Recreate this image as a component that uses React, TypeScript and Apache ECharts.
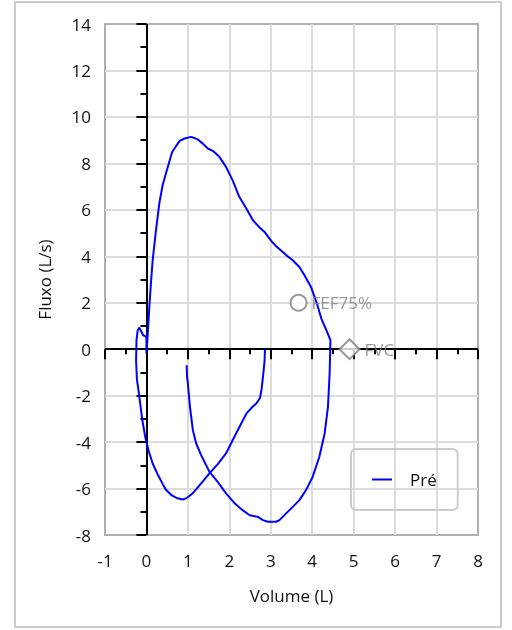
import React, { useEffect, useRef } from "react";
import * as echarts from "echarts";

const seriesName = "Pré";
const volume = [
  2.86, 2.85, 2.82, 2.78, 2.74, 2.66, 2.55, 2.42, 2.33, 2.2, 2.08, 1.92, 1.72, 1.52, 1.3, 1.12, 0.98, 0.88, 0.75, 0.6,
  0.47, 0.39, 0.26, 0.15, 0.05, -0.03, -0.1, -0.14, -0.19, -0.23, -0.25, -0.24, -0.21, -0.17, -0.13, -0.08, -0.03, 0.0, 0.0, 0.03,
  0.07, 0.11, 0.15, 0.23, 0.31, 0.39, 0.48, 0.62, 0.8, 0.92, 1.08, 1.24, 1.36, 1.48, 1.6, 1.76, 1.92, 2.08, 2.24, 2.41,
  2.57, 2.73, 2.85, 3.01, 3.13, 3.37, 3.53, 3.69, 3.81, 3.97, 4.1, 4.22, 4.34, 4.44, 4.42, 4.38, 4.3, 4.17, 4.01, 3.85,
  3.69, 3.53, 3.37, 3.21, 3.13, 2.93, 2.81, 2.69, 2.49, 2.32, 2.12, 1.92, 1.72, 1.52, 1.32, 1.2, 1.12, 1.05, 1.0, 0.98, 0.97,
];
const flow = [
  0.0, -0.5, -1.05, -1.7, -2.1, -2.32, -2.5, -2.75, -3.05, -3.5, -3.92, -4.49, -4.95, -5.35, -5.82, -6.2, -6.4, -6.47, -6.42, -6.28,
  -6.05, -5.8, -5.35, -4.92, -4.35, -3.77, -3.05, -2.48, -1.8, -1.3, -0.5, 0.4, 0.82, 0.93, 0.78, 0.6, 0.56, 0.5, -0.19, 0.6,
  1.82, 2.9, 3.83, 5.12, 6.27, 7.06, 7.63, 8.49, 8.97, 9.07, 9.14, 9.03, 8.85, 8.64, 8.54, 8.28, 7.85, 7.27, 6.56, 6.06,
  5.55, 5.24, 5.05, 4.66, 4.43, 4.05, 3.83, 3.54, 3.19, 2.68, 2.04, 1.32, 0.82, 0.39, -1.05, -2.48, -3.63, -4.64, -5.5, -6.07,
  -6.5, -6.79, -7.07, -7.36, -7.43, -7.43, -7.36, -7.22, -7.15, -6.93, -6.62, -6.21, -5.71, -5.28, -4.56, -4.06, -3.49, -2.48, -1.48, -1.19, -0.69,
];
const markerNames = ["FEF75%", "FVC"];
const markerVolume = [3.67, 4.9];
const markerFlow = [2.0, 0];

const xMin = -1, xMax = 8, xStep = 1;
const yMin = -8, yMax = 14, yStep = 2;
const xTitle = "Volume (L)";
const yTitle = "Fluxo (L/s)";

const FONT = "Open Sans";

export default function App() {
  const ref = useRef<HTMLDivElement>(null);
  useEffect(() => {
    if (!ref.current) return;
    const chart = echarts.init(ref.current, null, { renderer: "svg" });
    const pts = volume.map((v, i) => [v, flow[i]]);
    const axisText = { color: "#111", fontSize: 17, fontFamily: FONT };
    chart.setOption({
      animation: false,
      textStyle: { fontFamily: FONT },
      graphic: [
        {
          type: "rect",
          shape: { x: 15, y: 2, width: 486, height: 625 },
          style: { fill: "none", stroke: "#cccccc", lineWidth: 2 },
          silent: true,
        },
      ],
      grid: {
        left: 105,
        right: 34,
        top: 24,
        bottom: 95,
        show: true,
        borderColor: "#b0b0b0",
        borderWidth: 2,
        backgroundColor: "transparent",
      },
      legend: {
        show: true,
        left: 351,
        top: 449,
        orient: "vertical",
        icon: "rect",
        itemWidth: 20,
        itemHeight: 2,
        padding: [22, 21, 22, 21],
        borderColor: "#cccccc",
        borderWidth: 2,
        borderRadius: 5,
        backgroundColor: "transparent",
        textStyle: { color: "#111", fontSize: 17, fontFamily: FONT, padding: [0, 0, 0, 13] },
        data: [seriesName],
      },
      xAxis: {
        type: "value",
        min: xMin,
        max: xMax,
        interval: xStep,
        offset: 2,
        name: xTitle,
        nameLocation: "middle",
        nameGap: 50,
        nameTextStyle: axisText,
        axisLine: { show: false },
        axisTick: { show: true, length: 10, lineStyle: { color: "#000", width: 2 } },
        minorTick: { show: true, splitNumber: 2, length: 5, lineStyle: { color: "#000", width: 2 } },
        axisLabel: { ...axisText, margin: 15 },
        splitLine: { show: true, showMinLine: false, showMaxLine: false, lineStyle: { color: "#dcdcdc", width: 2 } },
      },
      yAxis: {
        type: "value",
        min: yMin,
        max: yMax,
        interval: yStep,
        name: yTitle,
        nameLocation: "middle",
        nameGap: 52,
        nameTextStyle: axisText,
        axisLine: { show: false },
        axisTick: { show: true, length: 10, lineStyle: { color: "#000", width: 2 } },
        minorTick: { show: true, splitNumber: 2, length: 6, lineStyle: { color: "#000", width: 2 } },
        axisLabel: { ...axisText, margin: 14 },
        splitLine: { show: true, showMinLine: false, showMaxLine: false, lineStyle: { color: "#dcdcdc", width: 2 } },
      },
      series: [
        {
          name: seriesName,
          type: "line",
          data: pts,
          symbol: "none",
          smooth: false,
          lineStyle: { color: "#0000ff", width: 2 },
          itemStyle: { color: "#0000ff" },
          z: 3,
          markLine: {
            silent: true,
            symbol: ["none", "none"],
            label: { show: false },
            lineStyle: { color: "#000", width: 2, type: "solid" },
            data: [{ xAxis: 0 }, { yAxis: 0 }],
            z: 2,
          },
        },
        {
          name: "markers",
          type: "scatter",
          data: markerVolume.map((v, i) => ({
            value: [v, markerFlow[i]],
            name: markerNames[i],
            symbol: i === 0 ? "emptyCircle" : "emptyDiamond",
            symbolSize: i === 0 ? 16 : 20,
          })),
          itemStyle: { color: "#808080", borderColor: "#808080", borderWidth: 2 },
          label: {
            show: true,
            position: "right",
            distance: 4,
            formatter: "{b}",
            color: "#808080",
            fontSize: 17,
            fontFamily: FONT,
          },
          z: 4,
        },
      ],
    });
    return () => chart.dispose();
  }, []);
  return (
    <div
      ref={ref}
      style={{ position: "fixed", left: 0, top: 0, width: 512, height: 630 }}
    />
  );
}
